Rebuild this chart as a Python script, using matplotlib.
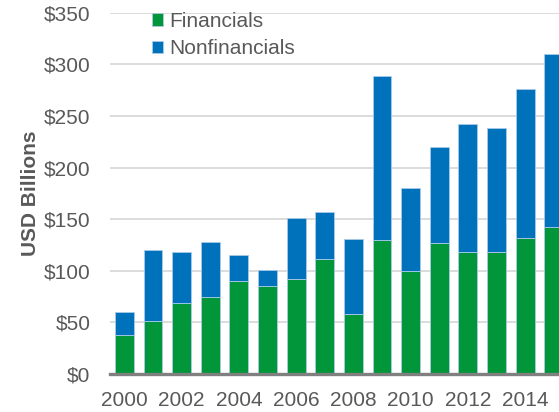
import matplotlib
matplotlib.use("Agg")
import matplotlib.pyplot as plt
import numpy as np

plt.rcParams['font.family'] = ['Liberation Sans', 'DejaVu Sans']

years = list(range(2000, 2016))
financials = [38, 51, 69, 75, 90, 85, 92, 111, 58, 130, 100, 127, 118, 118, 132, 142]
totals = [60, 120, 118, 128, 115, 101, 151, 157, 131, 289, 180, 220, 242, 238, 276, 310]
nonfinancials = [t - f for t, f in zip(totals, financials)]

green = '#009639'
blue = '#0072bc'
grey = '#595959'

fig = plt.figure(figsize=(5.59, 4.12), dpi=100)
ax = fig.add_axes([110/559, 38/412, 1 - 110/559, (374 - 12.7)/412])

x = np.arange(len(years))
ax.bar(x, financials, width=0.66, color=green, edgecolor='#a9cbe8', linewidth=0.6,
       label='Financials', zorder=3)
ax.bar(x, nonfinancials, width=0.66, bottom=financials, color=blue, edgecolor='#a9cbe8',
       linewidth=0.6, label='Nonfinancials', zorder=3)

ax.set_xlim(-0.5, 15.18)
ax.set_ylim(0, 350)
ax.set_yticks(range(0, 351, 50))
ax.set_yticklabels(['$%d' % v for v in range(0, 351, 50)])
ax.set_xticks(x[::2])
ax.set_xticklabels([str(y) for y in years[::2]])
ax.tick_params(axis='both', length=0, labelsize=15, colors=grey)
ax.tick_params(axis='y', pad=14)
ax.tick_params(axis='x', pad=12)

ax.grid(axis='y', color='#d9d9d9', linewidth=1.3, zorder=0)
for s in ['top', 'right', 'left']:
    ax.spines[s].set_visible(False)
ax.spines['bottom'].set_color('#808080')
ax.spines['bottom'].set_linewidth(2.4)
ax.spines['bottom'].set_zorder(4)

ax.set_ylabel('USD Billions', fontsize=15, fontweight='bold', color=grey)
ax.yaxis.set_label_coords(-0.155, 0.5)

ax.legend(loc='upper left', bbox_to_anchor=(0.075, 1.025), frameon=False,
          fontsize=15, labelcolor=grey, handlelength=0.55, handleheight=0.55,
          handletextpad=0.3, labelspacing=0.4, borderaxespad=0)

fig.savefig('out.png', dpi=100)
